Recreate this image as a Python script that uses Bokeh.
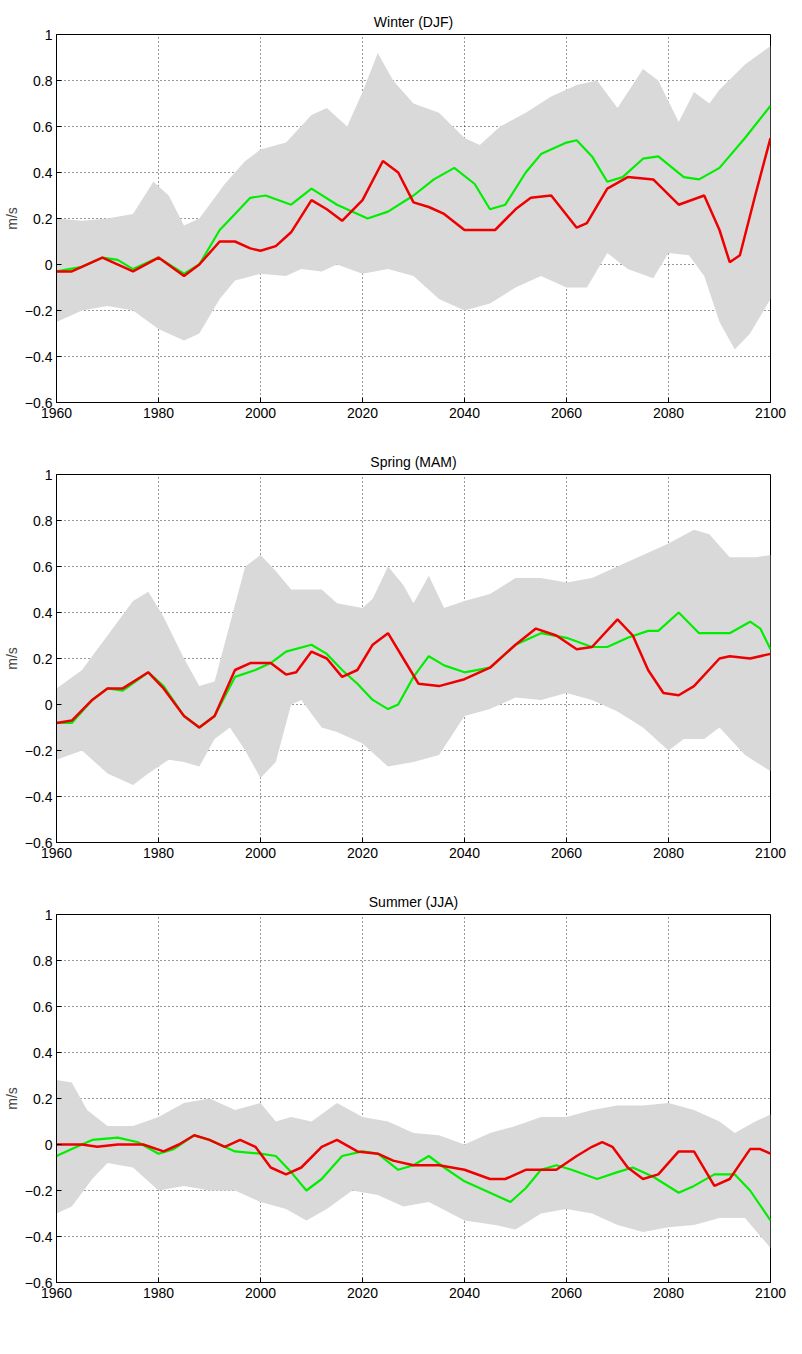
from bokeh.plotting import figure
from bokeh.layouts import column
from bokeh.models import Range1d, FixedTicker
from bokeh.embed import file_html
from bokeh.resources import INLINE

# Winter (DJF)
w_green_x = [1960, 1965, 1969, 1972, 1975, 1980, 1985, 1988, 1992, 1995, 1998, 2001, 2006, 2010, 2015, 2021, 2025, 2030, 2034, 2038, 2042, 2045, 2048, 2052, 2055, 2060, 2062, 2065, 2068, 2071, 2075, 2078, 2083, 2086, 2090, 2095, 2100]
w_green_y = [-0.03, -0.01, 0.03, 0.02, -0.02, 0.03, -0.04, 0.0, 0.15, 0.22, 0.29, 0.3, 0.26, 0.33, 0.26, 0.2, 0.23, 0.3, 0.37, 0.42, 0.35, 0.24, 0.26, 0.4, 0.48, 0.53, 0.54, 0.47, 0.36, 0.38, 0.46, 0.47, 0.38, 0.37, 0.42, 0.55, 0.69]
w_red_x = [1960, 1963, 1969, 1975, 1980, 1985, 1988, 1992, 1995, 1998, 2000, 2003, 2006, 2010, 2013, 2016, 2020, 2024, 2027, 2030, 2033, 2036, 2040, 2046, 2050, 2053, 2057, 2062, 2064, 2068, 2072, 2077, 2082, 2087, 2090, 2092, 2094, 2097, 2100]
w_red_y = [-0.03, -0.03, 0.03, -0.03, 0.03, -0.05, 0.0, 0.1, 0.1, 0.07, 0.06, 0.08, 0.14, 0.28, 0.24, 0.19, 0.28, 0.45, 0.4, 0.27, 0.25, 0.22, 0.15, 0.15, 0.24, 0.29, 0.3, 0.16, 0.18, 0.33, 0.38, 0.37, 0.26, 0.3, 0.15, 0.01, 0.04, 0.3, 0.55]
w_up_x = [1960, 1965, 1970, 1975, 1979, 1982, 1985, 1988, 1993, 1997, 2000, 2005, 2010, 2013, 2017, 2020, 2023, 2026, 2030, 2035, 2040, 2043, 2047, 2052, 2057, 2062, 2066, 2070, 2075, 2078, 2082, 2085, 2088, 2090, 2095, 2100]
w_up_y = [0.2, 0.19, 0.2, 0.22, 0.36, 0.3, 0.17, 0.2, 0.35, 0.45, 0.5, 0.53, 0.65, 0.68, 0.6, 0.75, 0.92, 0.8, 0.7, 0.66, 0.55, 0.52, 0.6, 0.66, 0.73, 0.78, 0.8, 0.68, 0.85, 0.8, 0.62, 0.75, 0.7, 0.76, 0.87, 0.95]
w_lo_x = [1960, 1965, 1970, 1975, 1980, 1985, 1988, 1992, 1995, 2000, 2005, 2008, 2012, 2015, 2020, 2025, 2030, 2035, 2040, 2045, 2050, 2055, 2060, 2064, 2068, 2072, 2077, 2080, 2084, 2087, 2090, 2093, 2096, 2100]
w_lo_y = [-0.25, -0.2, -0.18, -0.2, -0.28, -0.33, -0.3, -0.15, -0.07, -0.04, -0.05, -0.02, -0.03, 0.0, -0.04, -0.02, -0.05, -0.15, -0.2, -0.17, -0.1, -0.05, -0.1, -0.1, 0.05, -0.02, -0.06, 0.05, 0.04, -0.05, -0.25, -0.37, -0.3, -0.15]

# Spring (MAM)
s_green_x = [1960, 1963, 1967, 1970, 1973, 1978, 1981, 1985, 1988, 1991, 1995, 1999, 2002, 2005, 2010, 2013, 2016, 2019, 2022, 2025, 2027, 2030, 2033, 2036, 2040, 2045, 2050, 2055, 2060, 2065, 2068, 2072, 2076, 2078, 2082, 2086, 2092, 2096, 2098, 2100]
s_green_y = [-0.08, -0.08, 0.02, 0.07, 0.06, 0.14, 0.08, -0.05, -0.1, -0.05, 0.12, 0.15, 0.18, 0.23, 0.26, 0.22, 0.15, 0.09, 0.02, -0.02, 0.0, 0.12, 0.21, 0.17, 0.14, 0.16, 0.26, 0.31, 0.29, 0.25, 0.25, 0.29, 0.32, 0.32, 0.4, 0.31, 0.31, 0.36, 0.33, 0.24]
s_red_x = [1960, 1963, 1967, 1970, 1973, 1978, 1981, 1985, 1988, 1991, 1995, 1998, 2002, 2005, 2007, 2010, 2013, 2016, 2019, 2022, 2025, 2028, 2031, 2035, 2040, 2045, 2050, 2054, 2058, 2062, 2065, 2070, 2073, 2076, 2079, 2082, 2085, 2090, 2092, 2096, 2100]
s_red_y = [-0.08, -0.07, 0.02, 0.07, 0.07, 0.14, 0.07, -0.05, -0.1, -0.05, 0.15, 0.18, 0.18, 0.13, 0.14, 0.23, 0.2, 0.12, 0.15, 0.26, 0.31, 0.2, 0.09, 0.08, 0.11, 0.16, 0.26, 0.33, 0.3, 0.24, 0.25, 0.37, 0.3, 0.15, 0.05, 0.04, 0.08, 0.2, 0.21, 0.2, 0.22]
s_up_x = [1960, 1965, 1970, 1975, 1978, 1981, 1985, 1988, 1991, 1994, 1997, 2000, 2003, 2006, 2012, 2015, 2020, 2022, 2025, 2028, 2030, 2033, 2036, 2040, 2045, 2050, 2055, 2060, 2065, 2070, 2075, 2080, 2085, 2088, 2092, 2097, 2100]
s_up_y = [0.07, 0.15, 0.3, 0.45, 0.49, 0.38, 0.2, 0.08, 0.1, 0.35, 0.6, 0.65, 0.58, 0.5, 0.5, 0.44, 0.42, 0.46, 0.6, 0.52, 0.44, 0.56, 0.42, 0.45, 0.48, 0.55, 0.55, 0.53, 0.55, 0.6, 0.65, 0.7, 0.76, 0.74, 0.64, 0.64, 0.65]
s_lo_x = [1960, 1965, 1970, 1975, 1978, 1982, 1985, 1988, 1991, 1994, 1997, 2000, 2003, 2006, 2008, 2012, 2015, 2020, 2025, 2030, 2035, 2040, 2045, 2050, 2055, 2060, 2065, 2070, 2075, 2080, 2083, 2087, 2090, 2095, 2100]
s_lo_y = [-0.24, -0.2, -0.3, -0.35, -0.3, -0.24, -0.25, -0.27, -0.15, -0.1, -0.2, -0.32, -0.25, 0.0, 0.02, -0.1, -0.12, -0.17, -0.27, -0.25, -0.22, -0.05, -0.02, 0.03, 0.02, 0.05, 0.02, -0.03, -0.1, -0.2, -0.15, -0.15, -0.1, -0.22, -0.29]

# Summer (JJA)
j_green_x = [1960, 1963, 1967, 1972, 1976, 1980, 1983, 1987, 1990, 1995, 2000, 2003, 2006, 2009, 2012, 2016, 2020, 2023, 2027, 2030, 2033, 2036, 2040, 2045, 2049, 2052, 2055, 2058, 2061, 2066, 2070, 2073, 2077, 2082, 2085, 2089, 2093, 2096, 2100]
j_green_y = [-0.05, -0.02, 0.02, 0.03, 0.01, -0.04, -0.02, 0.04, 0.02, -0.03, -0.04, -0.05, -0.12, -0.2, -0.15, -0.05, -0.03, -0.04, -0.11, -0.09, -0.05, -0.1, -0.16, -0.21, -0.25, -0.19, -0.11, -0.09, -0.11, -0.15, -0.12, -0.1, -0.14, -0.21, -0.18, -0.13, -0.13, -0.2, -0.33]
j_red_x = [1960, 1965, 1968, 1972, 1977, 1981, 1984, 1987, 1990, 1993, 1996, 1999, 2002, 2005, 2008, 2012, 2015, 2019, 2023, 2026, 2030, 2035, 2040, 2045, 2048, 2052, 2058, 2062, 2065, 2067, 2069, 2072, 2075, 2078, 2082, 2085, 2089, 2092, 2096, 2098, 2100]
j_red_y = [0.0, 0.0, -0.01, 0.0, 0.0, -0.03, 0.0, 0.04, 0.02, -0.01, 0.02, -0.01, -0.1, -0.13, -0.1, -0.01, 0.02, -0.03, -0.04, -0.07, -0.09, -0.09, -0.11, -0.15, -0.15, -0.11, -0.11, -0.05, -0.01, 0.01, -0.01, -0.1, -0.15, -0.13, -0.03, -0.03, -0.18, -0.15, -0.02, -0.02, -0.04]
j_up_x = [1960, 1963, 1966, 1970, 1975, 1980, 1985, 1990, 1995, 2000, 2003, 2006, 2010, 2015, 2020, 2025, 2030, 2035, 2040, 2045, 2050, 2055, 2060, 2065, 2070, 2075, 2080, 2085, 2090, 2093, 2097, 2100]
j_up_y = [0.28, 0.27, 0.15, 0.08, 0.08, 0.12, 0.18, 0.2, 0.15, 0.18, 0.1, 0.12, 0.1, 0.18, 0.12, 0.1, 0.05, 0.04, 0.0, 0.05, 0.08, 0.12, 0.12, 0.15, 0.17, 0.17, 0.18, 0.15, 0.1, 0.05, 0.1, 0.13]
j_lo_x = [1960, 1963, 1967, 1970, 1975, 1980, 1985, 1990, 1995, 2000, 2005, 2009, 2013, 2018, 2023, 2028, 2033, 2040, 2046, 2050, 2055, 2060, 2065, 2070, 2075, 2080, 2085, 2090, 2095, 2100]
j_lo_y = [-0.3, -0.27, -0.15, -0.08, -0.1, -0.2, -0.18, -0.2, -0.2, -0.25, -0.28, -0.33, -0.28, -0.2, -0.22, -0.27, -0.25, -0.33, -0.35, -0.37, -0.3, -0.28, -0.3, -0.35, -0.38, -0.36, -0.35, -0.32, -0.32, -0.45]

panels = [
    ("Winter (DJF)", w_up_x, w_up_y, w_lo_x, w_lo_y, w_green_x, w_green_y, w_red_x, w_red_y),
    ("Spring (MAM)", s_up_x, s_up_y, s_lo_x, s_lo_y, s_green_x, s_green_y, s_red_x, s_red_y),
    ("Summer (JJA)", j_up_x, j_up_y, j_lo_x, j_lo_y, j_green_x, j_green_y, j_red_x, j_red_y),
]

FONT = "Liberation Sans"
figs = []
for title, ux, uy, lx, ly, gx, gy, rx, ry in panels:
    p = figure(width=786, height=440, output_backend="svg", toolbar_location=None,
               x_range=Range1d(1960, 2100), y_range=Range1d(-0.6, 1.0),
               min_border_left=30, min_border_right=16, min_border_top=34, min_border_bottom=38)
    p.title.text = title
    p.title.align = "center"
    p.title.text_font = FONT
    p.title.text_font_size = "10.5pt"
    p.title.text_font_style = "normal"
    p.title.text_color = "black"
    # shaded band: upper edge forward, lower edge backward
    p.patch(ux + lx[::-1], uy + ly[::-1], fill_color="#d9d9d9", line_color=None)
    p.line(gx, gy, color="#00ee00", line_width=2.2)
    p.line(rx, ry, color="#ee0000", line_width=2.5)
    p.xaxis.ticker = FixedTicker(ticks=list(range(1960, 2101, 20)))
    p.yaxis.ticker = FixedTicker(ticks=[round(-0.6 + 0.2 * i, 1) for i in range(9)])
    p.yaxis.axis_label = "m/s"
    p.yaxis.axis_label_standoff = 2
    p.yaxis.major_label_standoff = 4
    for ax in (p.xaxis[0], p.yaxis[0]):
        ax.major_label_text_font = FONT
        ax.major_label_text_font_size = "10.5pt"
        ax.axis_label_text_font = FONT
        ax.axis_label_text_font_size = "10.5pt"
        ax.axis_label_text_font_style = "normal"
        ax.major_tick_in = 5
        ax.major_tick_out = 0
        ax.minor_tick_line_color = None
        ax.axis_line_color = "black"
        ax.major_tick_line_color = "black"
        ax.major_label_text_color = "black"
    p.grid.grid_line_color = "black"
    p.grid.grid_line_dash = "1 3"
    p.grid.grid_line_alpha = 0.8
    p.outline_line_color = "black"
    p.outline_line_alpha = 1.0
    figs.append(p)

layout = column(*figs, spacing=0)
open("out.html", "w").write(file_html(layout, INLINE))
